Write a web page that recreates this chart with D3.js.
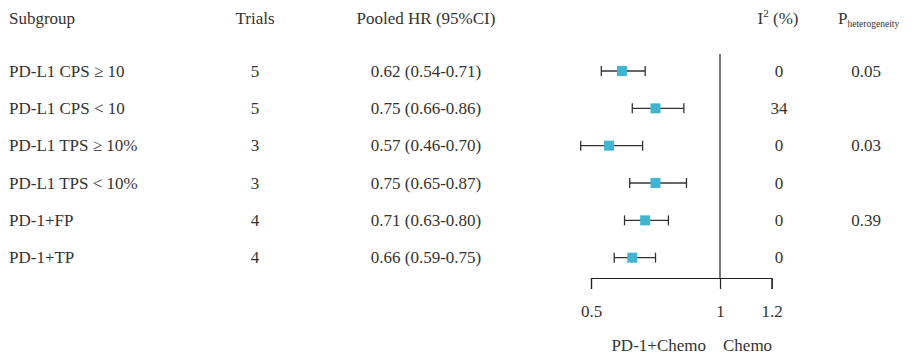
<!DOCTYPE html>
<html>
<head>
<meta charset="utf-8">
<script src="https://cdn.jsdelivr.net/npm/d3@7"></script>
<style>
  body { margin: 0; background: #fff; }
  text { font-family: "Liberation Serif", "DejaVu Serif", serif; fill: #333; }
</style>
</head>
<body>
<div id="chart"></div>
<script>
/* DATA */
const subgroups = ["PD-L1 CPS \u2265 10", "PD-L1 CPS < 10", "PD-L1 TPS \u2265 10%", "PD-L1 TPS < 10%", "PD-1+FP", "PD-1+TP"];
const trials = [5, 5, 3, 3, 4, 4];
const hr = [0.62, 0.75, 0.57, 0.75, 0.71, 0.66];
const lower = [0.54, 0.66, 0.46, 0.65, 0.63, 0.59];
const upper = [0.71, 0.86, 0.70, 0.87, 0.80, 0.75];
const i2 = [0, 34, 0, 0, 0, 0];
const pHet = ["0.05", "", "0.03", "", "0.39", ""];
const xTicks = [0.5, 1, 1.2];

/* CONSTANTS */
const width = 918, height = 356;
const fontSize = 17;
const lineColor = "#333";
const boxColor = "#3fb5d2";

const svg = d3.select("#chart").append("svg")
  .attr("width", width)
  .attr("height", height);

// scales
const xScale = d3.scaleLinear().domain([0.5, 1.2]).range([591, 771.6]);
const yScale = d3.scalePoint().domain(d3.range(subgroups.length)).range([71, 257.7]);
const axisY = 278;

// header
const header = svg.append("g").attr("font-size", fontSize);
header.append("text").attr("x", 9).attr("y", 18).attr("dominant-baseline", "central").text("Subgroup");
header.append("text").attr("x", 255).attr("y", 18).attr("text-anchor", "middle").attr("dominant-baseline", "central").text("Trials");
header.append("text").attr("x", 426).attr("y", 18).attr("text-anchor", "middle").attr("dominant-baseline", "central").text("Pooled HR (95%CI)");

const i2Head = header.append("text").attr("x", 778).attr("y", 18).attr("text-anchor", "middle").attr("dominant-baseline", "central");
i2Head.append("tspan").text("I");
i2Head.append("tspan").attr("font-size", 11).attr("dy", -5).text("2");
i2Head.append("tspan").attr("dy", 5).text(" (%)");

const pHead = header.append("text").attr("x", 838).attr("y", 18).attr("dominant-baseline", "central");
pHead.append("tspan").text("P");
pHead.append("tspan").attr("font-size", 9.5).attr("dy", 6).text("heterogeneity");

// rows of text
const rows = svg.append("g").attr("font-size", fontSize)
  .selectAll("g.row")
  .data(subgroups.map((s, i) => i))
  .join("g")
  .attr("class", "row")
  .attr("transform", i => `translate(0,${yScale(i)})`);

rows.append("text").attr("x", 9).attr("dominant-baseline", "central").text(i => subgroups[i]);
rows.append("text").attr("x", 255).attr("text-anchor", "middle").attr("dominant-baseline", "central").text(i => trials[i]);
rows.append("text").attr("x", 426).attr("text-anchor", "middle").attr("dominant-baseline", "central")
  .text(i => `${hr[i].toFixed(2)} (${lower[i].toFixed(2)}-${upper[i].toFixed(2)})`);
rows.append("text").attr("x", 779).attr("text-anchor", "middle").attr("dominant-baseline", "central").text(i => i2[i]);
rows.append("text").attr("x", 866).attr("text-anchor", "middle").attr("dominant-baseline", "central").text(i => pHet[i]);

// reference line at HR = 1
svg.append("line")
  .attr("x1", xScale(1)).attr("x2", xScale(1))
  .attr("y1", 54).attr("y2", axisY)
  .attr("stroke", "#222").attr("stroke-width", 1.2);

// CI lines with caps
const ci = svg.append("g").attr("stroke", lineColor).attr("stroke-width", 1.3);
ci.selectAll("line.ci")
  .data(d3.range(subgroups.length))
  .join("line").attr("class", "ci")
  .attr("x1", i => xScale(lower[i])).attr("x2", i => xScale(upper[i]))
  .attr("y1", i => yScale(i)).attr("y2", i => yScale(i));
ci.selectAll("line.capl")
  .data(d3.range(subgroups.length))
  .join("line").attr("class", "capl")
  .attr("x1", i => xScale(lower[i])).attr("x2", i => xScale(lower[i]))
  .attr("y1", i => yScale(i) - 5).attr("y2", i => yScale(i) + 5);
ci.selectAll("line.capr")
  .data(d3.range(subgroups.length))
  .join("line").attr("class", "capr")
  .attr("x1", i => xScale(upper[i])).attr("x2", i => xScale(upper[i]))
  .attr("y1", i => yScale(i) - 5).attr("y2", i => yScale(i) + 5);

// boxes
const box = 10;
svg.selectAll("rect.box")
  .data(d3.range(subgroups.length))
  .join("rect").attr("class", "box")
  .attr("x", i => xScale(hr[i]) - box / 2)
  .attr("y", i => yScale(i) - box / 2)
  .attr("width", box).attr("height", box)
  .attr("fill", boxColor);

// x axis
const xAxis = d3.axisBottom(xScale)
  .tickValues(xTicks)
  .tickSize(11)
  .tickSizeOuter(11)
  .tickPadding(16)
  .tickFormat(d => d);

const xAxisGroup = svg.append("g")
  .attr("transform", `translate(0,${axisY})`)
  .call(xAxis);
xAxisGroup.selectAll("path, line").attr("stroke", "#222").attr("stroke-width", 1.2);
xAxisGroup.selectAll("text")
  .attr("font-size", fontSize)
  .attr("font-family", "Liberation Serif, DejaVu Serif, serif")
  .attr("fill", "#333");

// direction labels
svg.append("text").attr("x", xScale(1) - 14).attr("y", 345).attr("text-anchor", "end")
  .attr("dominant-baseline", "central").attr("font-size", fontSize).text("PD-1+Chemo");
svg.append("text").attr("x", xScale(1) + 3).attr("y", 345)
  .attr("dominant-baseline", "central").attr("font-size", fontSize).text("Chemo");
</script>
</body>
</html>
